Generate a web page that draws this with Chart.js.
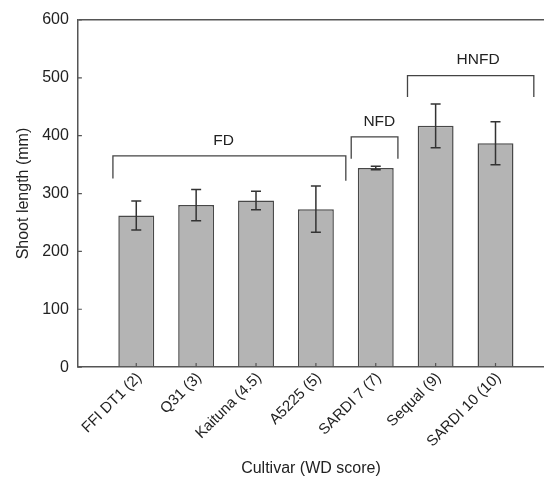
<!DOCTYPE html>
<html>
<head>
<meta charset="utf-8">
<script src="https://cdn.jsdelivr.net/npm/chart.js@4"></script>
<style>
    html, body { margin: 0; padding: 0; background: #fff; }
    #wrap { width: 544px; height: 478px; }
</style>
</head>
<body>
<div id="wrap"><canvas id="shootChart"></canvas></div>
<script>
// cultivars and their WD score
const cultivars = ["FFI DT1 (2)", "Q31 (3)", "Kaituna (4.5)", "A5225 (5)", "SARDI 7 (7)", "Sequal (9)", "SARDI 10 (10)"];
const shootLength = [262, 280, 288, 273, 344, 417, 387];
const shootErr = [25, 27, 16, 40, 3, 38, 37];
const yTicks = [0, 100, 200, 300, 400, 500, 600];

// group brackets (x in category units, y in mm)
const groupNames = ["FD", "NFD", "HNFD"];
const groupFrom = [-0.39, 3.59, 4.53];
const groupTo = [3.5, 4.37, 6.64];
const groupTop = [365, 398, 504];
const groupFootL = [326, 360, 467];
const groupFootR = [322, 360, 467];
const groupLabelX = [1.46, 4.06, 5.71];
const groupLabelY = [392, 424, 532];

const FONT = "'Liberation Sans', Arial, sans-serif";
const AXIS = "#555";

const extrasPlugin = {
    id: "extras",
    afterDatasetsDraw(chart) {
        const { ctx, chartArea, scales: { x, y } } = chart;
        ctx.save();

        // small inward tick marks on both axes
        ctx.strokeStyle = AXIS;
        ctx.lineWidth = 1.2;
        ctx.beginPath();
        yTicks.forEach(v => {
            const py = y.getPixelForValue(v);
            ctx.moveTo(chartArea.left, py); ctx.lineTo(chartArea.left + 4, py);
        });
        cultivars.forEach((_, i) => {
            const px = x.getPixelForValue(i);
            ctx.moveTo(px, chartArea.bottom); ctx.lineTo(px, chartArea.bottom - 4);
        });
        ctx.stroke();

        // error bars
        ctx.strokeStyle = "#333";
        ctx.lineWidth = 1.5;
        shootLength.forEach((v, i) => {
            const px = x.getPixelForValue(i);
            const top = y.getPixelForValue(v + shootErr[i]);
            const bot = y.getPixelForValue(v - shootErr[i]);
            ctx.beginPath();
            ctx.moveTo(px, top); ctx.lineTo(px, bot);
            ctx.moveTo(px - 5, top); ctx.lineTo(px + 5, top);
            ctx.moveTo(px - 5, bot); ctx.lineTo(px + 5, bot);
            ctx.stroke();
        });

        // brackets
        ctx.strokeStyle = "#444";
        ctx.lineWidth = 1.3;
        ctx.fillStyle = "#222";
        ctx.font = "15.5px " + FONT;
        ctx.textAlign = "center";
        ctx.textBaseline = "middle";
        groupNames.forEach((name, i) => {
            const x0 = x.getPixelForValue(groupFrom[i]);
            const x1 = x.getPixelForValue(groupTo[i]);
            ctx.beginPath();
            ctx.moveTo(x0, y.getPixelForValue(groupFootL[i]));
            ctx.lineTo(x0, y.getPixelForValue(groupTop[i]));
            ctx.lineTo(x1, y.getPixelForValue(groupTop[i]));
            ctx.lineTo(x1, y.getPixelForValue(groupFootR[i]));
            ctx.stroke();
            ctx.fillText(name, x.getPixelForValue(groupLabelX[i]), y.getPixelForValue(groupLabelY[i]));
        });
        ctx.restore();
    }
};

new Chart(document.getElementById("shootChart"), {
    type: "bar",
    data: {
        datasets: [{
            data: shootLength.map((v, i) => ({ x: i, y: v })),
            backgroundColor: "#b4b4b4",
            borderColor: "#484848",
            borderWidth: 1.5,
            categoryPercentage: 1,
            barPercentage: 0.6
        }]
    },
    options: {
        responsive: true,
        maintainAspectRatio: false,
        animation: false,
        events: [],
        layout: { padding: { left: 14, top: 20, right: 0, bottom: 0 } },
        plugins: {
            legend: { display: false },
            tooltip: { enabled: false }
        },
        scales: {
            x: {
                type: "linear",
                offset: false,
                min: -0.975,
                max: 6.81,
                afterBuildTicks: s => { s.ticks = cultivars.map((_, i) => ({ value: i })); },
                ticks: {
                    callback: v => cultivars[v],
                    minRotation: 45,
                    maxRotation: 45,
                    labelOffset: 3,
                    color: "#222",
                    font: { family: FONT, size: 15 },
                    padding: 2
                },
                grid: { drawOnChartArea: false, drawTicks: false },
                border: { display: true, color: AXIS, width: 1.5 },
                title: {
                    display: true,
                    text: "Cultivar (WD score)",
                    color: "#222",
                    font: { family: FONT, size: 16 },
                    padding: { top: 6, bottom: 0 }
                }
            },
            y: {
                min: 0,
                max: 600,
                afterBuildTicks: s => { s.ticks = yTicks.map(v => ({ value: v })); },
                ticks: {
                    color: "#222",
                    font: { family: FONT, size: 16 },
                    padding: 9
                },
                grid: {
                    color: c => (c.tick && c.tick.value === 600 ? AXIS : "transparent"),
                    lineWidth: 1.5,
                    drawTicks: false
                },
                border: { display: true, color: AXIS, width: 1.5 },
                title: {
                    display: true,
                    text: "Shoot length (mm)",
                    color: "#222",
                    font: { family: FONT, size: 16 },
                    padding: { top: 0, bottom: 0 }
                }
            }
        }
    },
    plugins: [extrasPlugin]
});
</script>
</body>
</html>
